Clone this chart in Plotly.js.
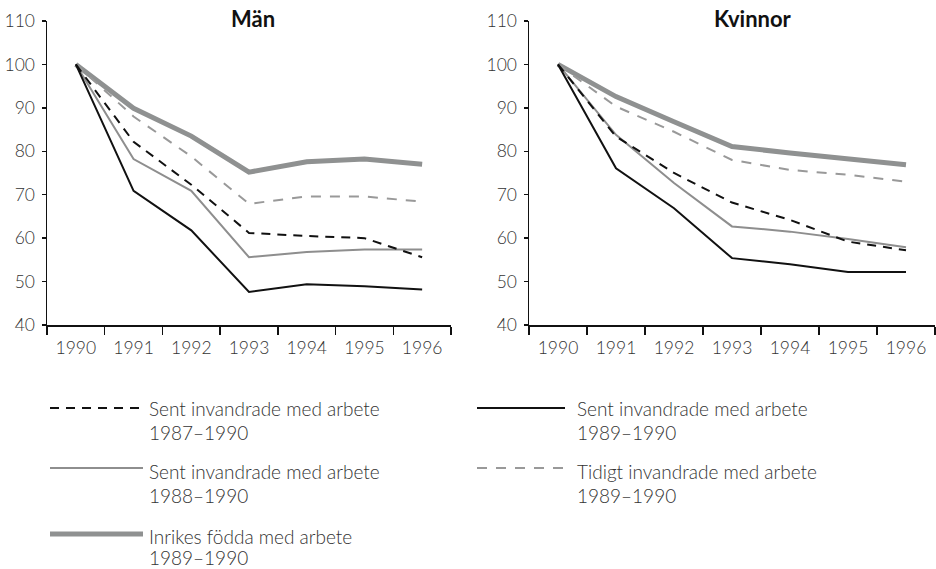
<!DOCTYPE html>
<html>
<head>
<meta charset="utf-8">
<script src="https://cdn.plot.ly/plotly-3.0.1.min.js"></script>
<style>html,body{margin:0;padding:0;background:#fff;}#chart{width:936px;height:569px;}</style>
</head>
<body>
<div id="chart"></div>
<script>
// ---- Data ----
const years = ['1990', '1991', '1992', '1993', '1994', '1995', '1996'];
const yTicks = [40, 50, 60, 70, 80, 90, 100, 110];

const seriesNames = [
  'Sent invandrade med arbete|1987–1990',
  'Sent invandrade med arbete|1989–1990',
  'Sent invandrade med arbete|1988–1990',
  'Tidigt invandrade med arbete|1989–1990',
  'Inrikes födda med arbete|1989–1990'
];

// Män
const manSent8790   = [100, 82.2, 72.3, 61.2, 60.5, 60.0, 55.6];
const manSent8990   = [100, 70.9, 61.8, 47.6, 49.4, 48.9, 48.2];
const manSent8890   = [100, 78.2, 70.9, 55.6, 56.8, 57.4, 57.4];
const manTidigt     = [100, 88.0, 78.8, 67.9, 69.6, 69.6, 68.4];
const manInrikes    = [100, 89.9, 83.5, 75.2, 77.6, 78.2, 77.0];

// Kvinnor
const kvSent8790    = [100, 83.4, 75.0, 68.2, 64.2, 59.2, 57.2];
const kvSent8990    = [100, 76.1, 66.9, 55.4, 54.0, 52.2, 52.2];
const kvSent8890    = [100, 83.8, 72.7, 62.7, 61.5, 59.8, 57.9];
const kvTidigt      = [100, 90.3, 84.5, 78.0, 75.7, 74.6, 73.0];
const kvInrikes     = [100, 92.6, 86.8, 81.1, 79.6, 78.2, 76.9];

const panelTitles = ['Män', 'Kvinnor'];

// ---- Styles ----
const styles = [
  {color: '#111111', width: 2, dash: '9px,7px'},
  {color: '#111111', width: 2, dash: 'solid'},
  {color: '#8e8e8e', width: 2, dash: 'solid'},
  {color: '#999999', width: 2, dash: '10px,9px'},
  {color: '#8f9191', width: 5, dash: 'solid'}
];

const manSeries = [manSent8790, manSent8990, manSent8890, manTidigt, manInrikes];
const kvSeries  = [kvSent8790, kvSent8990, kvSent8890, kvTidigt, kvInrikes];

// draw order: thick first so thin lines lie on top
const drawOrder = [4, 3, 2, 0, 1];
const traces = [];
[[manSeries, 'x', 'y'], [kvSeries, 'x2', 'y2']].forEach(([ser, xa, ya]) => {
  drawOrder.forEach(i => {
    traces.push({
      type: 'scatter', mode: 'lines', x: years, y: ser[i],
      xaxis: xa, yaxis: ya, showlegend: false, hoverinfo: 'skip',
      name: seriesNames[i].replace('|', ' '),
      line: {color: styles[i].color, width: styles[i].width, dash: styles[i].dash}
    });
  });
});

const H = 569, W = 936;
const py = v => 1 - v / H;
const px = v => v / W;

const fontFam = 'Lato, "Open Sans", sans-serif';
const tickFont = {family: fontFam, size: 17.5, color: '#333333', weight: 300};

function xAxis(domain, anchor) {
  return {
    domain: domain, anchor: anchor, type: 'category',
    range: [-0.5, 6.5], tickson: 'boundaries',
    ticks: 'outside', ticklen: 8, tickwidth: 1.5, tickcolor: '#111',
    ticklabelstandoff: 6,
    showline: true, linecolor: '#111', linewidth: 1.5,
    showgrid: false, zeroline: false, tickfont: tickFont, fixedrange: true
  };
}
function yAxis(domain, anchor) {
  return {
    domain: domain, anchor: anchor, range: [40, 110],
    tickvals: yTicks, ticks: 'outside', ticklen: 4, tickwidth: 1.5, tickcolor: '#111',
    ticklabelstandoff: 3,
    showline: true, linecolor: '#111', linewidth: 1.5,
    showgrid: false, zeroline: false, tickfont: tickFont, fixedrange: true
  };
}

const yDom = [py(325), py(21)];

const annotations = [];
const shapes = [];
// panel titles
[[panelTitles[0], 253], [panelTitles[1], 753]].forEach(([t, x]) => {
  annotations.push({
    text: '<b>' + t + '</b>', xref: 'paper', yref: 'paper',
    x: px(x), y: py(19), xanchor: 'center', yanchor: 'middle',
    showarrow: false, font: {family: fontFam, size: 22, color: '#111', weight: 700}
  });
});

// manual legend: [series index, lineX0, lineX1, textX, lineY, text1Y, text2Y]
const legendPos = [
  [0, 50, 143, 148, 408, 408, 433],
  [1, 477, 565, 576, 408, 408, 433],
  [2, 50, 143, 148, 468, 471, 495],
  [3, 477, 565, 576, 468, 471, 495],
  [4, 50, 143, 148, 534, 536, 557]
];
legendPos.forEach(([i, x0, x1, tx, ly, t1, t2]) => {
  const st = styles[i];
  shapes.push({
    type: 'line', xref: 'paper', yref: 'paper',
    x0: px(x0), x1: px(x1), y0: py(ly), y1: py(ly),
    line: {color: st.color, width: st.width, dash: st.dash}
  });
  const parts = seriesNames[i].split('|');
  [[parts[0], t1], [parts[1], t2]].forEach(([txt, yy]) => {
    annotations.push({
      text: txt, xref: 'paper', yref: 'paper',
      x: px(tx), y: py(yy), xanchor: 'left', yanchor: 'middle',
      showarrow: false, borderpad: 0,
      font: {family: fontFam, size: 19, color: '#333333', weight: 300}
    });
  });
});

const layout = {
  width: W, height: H,
  margin: {l: 0, r: 0, t: 0, b: 0},
  paper_bgcolor: '#ffffff', plot_bgcolor: '#ffffff',
  showlegend: false,
  xaxis: xAxis([px(47), px(451)], 'y'),
  yaxis: yAxis(yDom, 'x'),
  xaxis2: xAxis([px(529), px(935)], 'y2'),
  yaxis2: yAxis(yDom, 'x2'),
  annotations: annotations,
  shapes: shapes,
  font: {family: fontFam}
};

Plotly.newPlot('chart', traces, layout, {displayModeBar: false, staticPlot: true});
</script>
</body>
</html>
